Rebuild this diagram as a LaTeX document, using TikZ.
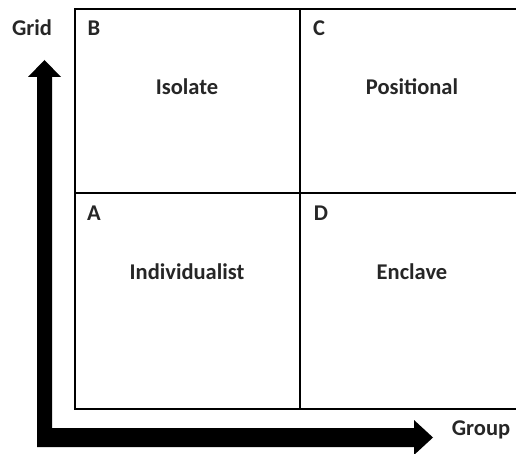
\documentclass[tikz,border=0pt]{standalone}
\usepackage{fontspec}
\setmainfont{Carlito}
\begin{document}
\begin{tikzpicture}[x=1pt,y=-1pt,
  lbl/.style={font=\bfseries\fontsize{22.5}{26}\selectfont, text=black!85},
  grid line/.style={line width=2pt},
  axis/.style={fill=black}]
\useasboundingbox (0,0) rectangle (516,454);
\begin{scope}
\clip (0,0) rectangle (516,454);
% quadrant frame
\coordinate (tl) at (75,9);
\coordinate (br) at (530,409);
\draw[grid line] (530,9) -- (tl) -- (75,409) -- (br);
\draw[grid line] (300,9) -- (300,409);
\draw[grid line] (75,193) -- (530,193);
% axis arrows
\fill[axis] (52,447) -- (414,447) -- (414,455) -- (433,437.5) -- (414,420) -- (414,428)
  -- (52,428) -- (52,77) -- (61,77) -- (44.5,60) -- (28,77) -- (37,77) -- (37,447) -- cycle;
\end{scope}
\node[lbl] (grid) at (32,28) {Grid};
\node[lbl] (group) at (481,430) {Group};
\node[lbl] (b) at (94,28) {B};
\node[lbl] (c) at (319,28) {C};
\node[lbl] (a) at (94,213) {A};
\node[lbl] (d) at (321,213) {D};
\node[lbl] (iso) at (187,87) {Isolate};
\node[lbl] (pos) at (412,87) {Positional};
\node[lbl] (ind) at (187,272) {Individualist};
\node[lbl] (enc) at (412,272) {Enclave};
\end{tikzpicture}
\end{document}
